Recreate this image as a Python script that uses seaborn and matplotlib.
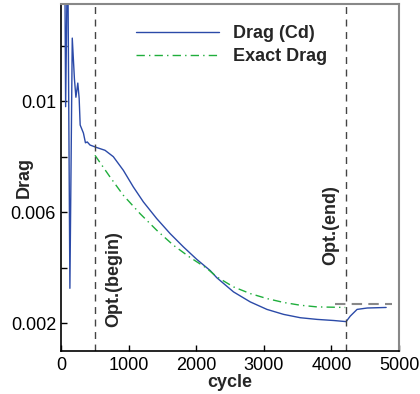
import numpy as np
import pandas as pd
import matplotlib
matplotlib.use("Agg")
import matplotlib.pyplot as plt
import seaborn as sns
from matplotlib.ticker import FixedLocator, NullFormatter

sns.set_style("ticks")
plt.rcParams['font.family'] = ['Liberation Sans', 'DejaVu Sans']

# Drag (Cd) history
drag_cycle = [55, 70, 100, 133, 168, 200, 222, 250, 270, 285, 333, 363,
              390, 430, 528, 652, 775, 923, 1071, 1220, 1417, 1615, 1812, 2010,
              2207, 2306, 2553, 2800, 3047, 3294, 3541, 3788, 4035, 4218,
              4280, 4380, 4530, 4810]
drag_cd = [0.0160, 0.0098, 0.0160, 0.00326, 0.01227, 0.0108,
           0.01014, 0.01065, 0.0101, 0.00914, 0.00885, 0.0085,
           0.00853, 0.00842, 0.00833, 0.00823, 0.00800, 0.00751, 0.00691, 0.00637,
           0.00577, 0.00523, 0.00475, 0.00430,
           0.00390, 0.00364, 0.00313, 0.00277, 0.00250, 0.00232, 0.00220, 0.00214,
           0.00210, 0.00206, 0.00226, 0.00250, 0.00255, 0.00257]

# Exact drag
exact_cycle = [504, 726, 923, 1170, 1417, 1664, 1911, 2158, 2306, 2553, 2800,
               3047, 3294, 3541, 3788, 4205]
exact_cd = [0.00805, 0.00727, 0.00661, 0.00595, 0.00535, 0.00481, 0.00437,
            0.00398, 0.00367, 0.00331, 0.00307, 0.00289, 0.00275, 0.00265,
            0.00259, 0.00257]

opt_begin = 500
opt_end = 4218
ref_level = 0.00270

df_drag = pd.DataFrame({"cycle": drag_cycle, "Drag": drag_cd})
df_exact = pd.DataFrame({"cycle": exact_cycle, "Drag": exact_cd})

fig = plt.figure(figsize=(4.2, 3.94), dpi=100)
ax = fig.add_axes([0.145, 0.109, 0.805, 0.881])

sns.lineplot(data=df_drag, x="cycle", y="Drag", ax=ax, color="#2b4aa8",
             lw=1.0, label="Drag (Cd)", sort=False)
sns.lineplot(data=df_exact, x="cycle", y="Drag", ax=ax, color="#1fae3c",
             lw=1.0, linestyle=(0, (6, 3, 1, 3)), label="Exact Drag", sort=False)

ax.axvline(opt_begin, color="#444444", lw=1.0, dashes=(5, 4))
ax.axvline(opt_end, color="#444444", lw=1.0, dashes=(5, 4))
ax.plot([4060, 4900], [ref_level, ref_level], color="#888888", lw=1.5, dashes=(5, 3))

ax.set_xlim(0, 5000)
ax.set_ylim(0.001, 0.0135)
ax.set_xticks([0, 1000, 2000, 3000, 4000, 5000])
ax.set_xticklabels(["0", "1000", "2000", "3000", "4000", "5000"])
ax.set_yticks([0.002, 0.006, 0.01])
ax.set_yticklabels(["0.002", "0.006", "0.01"])
ax.yaxis.set_minor_locator(FixedLocator([0.004, 0.008, 0.012]))
ax.yaxis.set_minor_formatter(NullFormatter())
ax.tick_params(axis="both", which="both", direction="in", labelsize=13, length=4,
               width=1.0, colors="black")
ax.tick_params(axis="x", pad=4)

ax.set_xlabel("cycle", fontsize=13, fontweight="bold", labelpad=0)
ax.set_ylabel("Drag", fontsize=13, fontweight="bold")
ax.yaxis.set_label_coords(-0.083, 0.50)

for s in ["top", "right"]:
    ax.spines[s].set_color("#888888")
    ax.spines[s].set_linewidth(1.5)
for s in ["left", "bottom"]:
    ax.spines[s].set_color("black")
    ax.spines[s].set_linewidth(1.2)

ax.text(900, 0.00187, "Opt.(begin)", rotation=90, fontsize=13, fontweight="bold",
        ha="right", va="bottom")
ax.text(4110, 0.0041, "Opt.(end)", rotation=90, fontsize=13, fontweight="bold",
        ha="right", va="bottom")

leg = ax.legend(loc="upper left", bbox_to_anchor=(0.173, 0.985), frameon=False,
                prop={"size": 13, "weight": "bold"}, handlelength=4.6,
                handletextpad=0.8, labelspacing=0.32)

fig.savefig("out.png", dpi=100)
